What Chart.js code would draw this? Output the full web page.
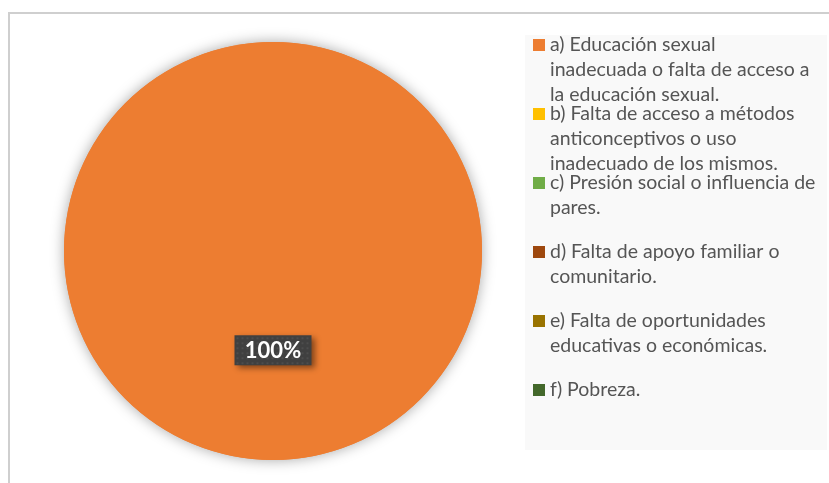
<!DOCTYPE html>
<html>
<head>
<meta charset="utf-8">
<script src="https://cdn.jsdelivr.net/npm/chart.js@4.4.0/dist/chart.umd.min.js"></script>
<style>
  html, body { margin: 0; padding: 0; background: #fff; }
  canvas { display: block; }
</style>
</head>
<body>
<canvas id="chartCausas" width="829" height="483"></canvas>
<script>
const categorias = [
  ['a) Educación sexual', 'inadecuada o falta de acceso a', 'la educación sexual.'],
  ['b) Falta de acceso a métodos', 'anticonceptivos o uso', 'inadecuado de los mismos.'],
  ['c) Presión social o influencia de', 'pares.'],
  ['d) Falta de apoyo familiar o', 'comunitario.'],
  ['e) Falta de oportunidades', 'educativas o económicas.'],
  ['f) Pobreza.']
];
const valores = [100, 0, 0, 0, 0, 0];
const colores = ['#ED7D31', '#FFC000', '#70AD47', '#9E480E', '#997300', '#43682B'];

const fuente = '"Lato", "Open Sans", sans-serif';

// marco, fondo de leyenda y sombra del pastel
const fondo = {
  id: 'fondo',
  beforeDraw(chart) {
    const ctx = chart.ctx;
    ctx.save();
    ctx.fillStyle = '#fff';
    ctx.fillRect(0, 0, chart.width, chart.height);
    ctx.strokeStyle = '#cfcfcf';
    ctx.lineWidth = 2;
    ctx.strokeRect(9, 13, chart.width + 20, chart.height + 20);
    ctx.fillStyle = '#f9f9f9';
    ctx.fillRect(525, 35, 302, 415);
    ctx.restore();
  },
  beforeDatasetsDraw(chart) {
    const arc = chart.getDatasetMeta(0).data[0];
    const ctx = chart.ctx;
    ctx.save();
    ctx.shadowColor = 'rgba(0,0,0,0.35)';
    ctx.shadowBlur = 14;
    ctx.fillStyle = '#ED7D31';
    ctx.beginPath();
    ctx.arc(arc.x, arc.y, arc.outerRadius, 0, Math.PI * 2);
    ctx.fill();
    ctx.restore();
  }
};

// etiqueta de porcentaje y leyenda
const textos = {
  id: 'textos',
  afterDraw(chart) {
    const ctx = chart.ctx;
    const meta = chart.getDatasetMeta(0);
    const total = valores.reduce((a, b) => a + b, 0);
    ctx.save();
    meta.data.forEach((arc, i) => {
      if (!valores[i]) return;
      const ang = (arc.startAngle + arc.endAngle) / 2;
      const r = valores[i] === total ? arc.outerRadius * 0.475 : arc.outerRadius * 0.6;
      const cx = valores[i] === total ? arc.x : arc.x + Math.cos(ang) * r;
      const cy = valores[i] === total ? arc.y + r : arc.y + Math.sin(ang) * r;
      const w = 77, h = 30;
      ctx.save();
      ctx.shadowColor = 'rgba(0,0,0,0.45)';
      ctx.shadowBlur = 6;
      ctx.shadowOffsetX = 3;
      ctx.shadowOffsetY = 3;
      ctx.fillStyle = '#404040';
      ctx.fillRect(cx - w / 2, cy - h / 2, w, h);
      ctx.restore();
      ctx.fillStyle = 'rgba(255,255,255,0.07)';
      for (let px = cx - w / 2 + 2; px < cx + w / 2; px += 5) {
        for (let py = cy - h / 2 + 2; py < cy + h / 2; py += 5) {
          ctx.fillRect(px, py, 2, 2);
        }
      }
      ctx.fillStyle = '#fff';
      ctx.font = 'bold 22px ' + fuente;
      ctx.textAlign = 'center';
      ctx.textBaseline = 'middle';
      ctx.fillText(Math.round(valores[i] / total * 100) + '%', cx, cy + 1);
    });

    ctx.font = '19.5px ' + fuente;
    ctx.textAlign = 'left';
    ctx.textBaseline = 'middle';
    const y0 = 45, paso = 69, linea = 25;
    categorias.forEach((lineas, i) => {
      const y = y0 + i * paso;
      ctx.fillStyle = colores[i];
      ctx.fillRect(533, y - 6, 12, 12);
      ctx.fillStyle = '#555555';
      lineas.forEach((t, j) => ctx.fillText(t, 550, y + j * linea));
    });
    ctx.restore();
  }
};

new Chart(document.getElementById('chartCausas'), {
  type: 'pie',
  data: {
    labels: categorias,
    datasets: [{
      data: valores,
      backgroundColor: colores,
      borderWidth: 0
    }]
  },
  options: {
    responsive: false,
    animation: false,
    layout: { padding: { left: 64, top: 42, right: 347, bottom: 23 } },
    plugins: {
      legend: { display: false },
      tooltip: { enabled: false }
    }
  },
  plugins: [fondo, textos]
});
</script>
</body>
</html>
